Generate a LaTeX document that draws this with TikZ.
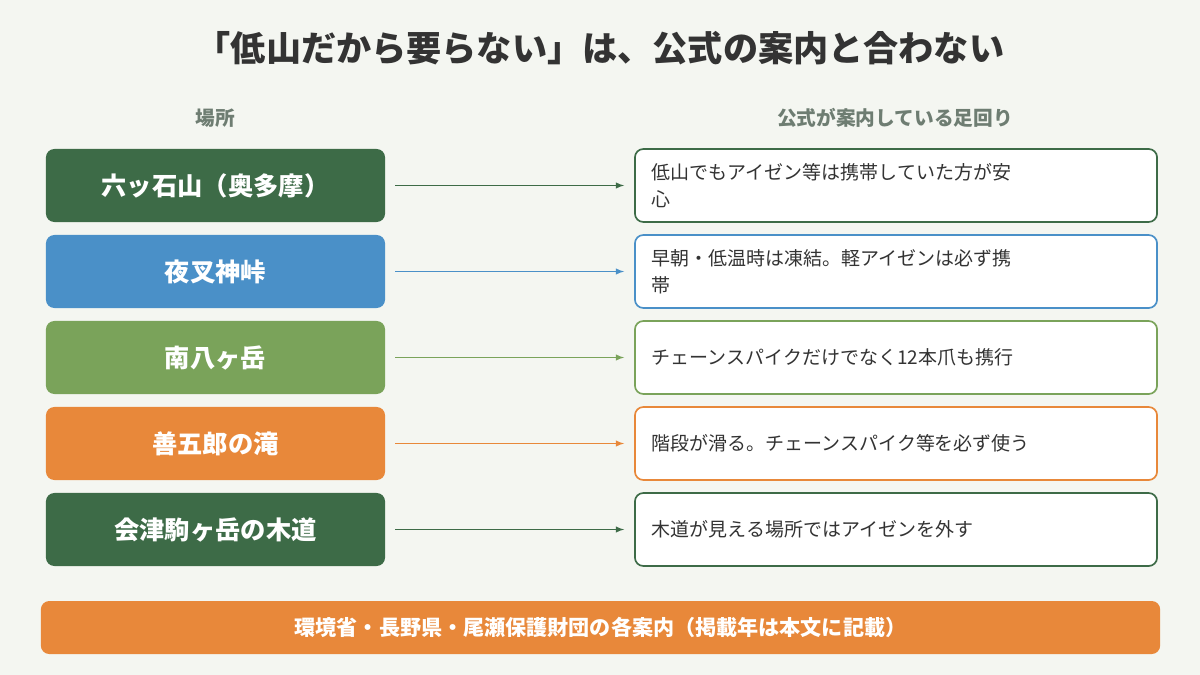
\documentclass[tikz,border=0pt]{standalone}
\usepackage{fontspec}
\setmainfont{Noto Sans CJK JP}
\usepackage{tikz}
\definecolor{bg}{HTML}{F4F6F1}
\definecolor{dgreen}{HTML}{3D6B47}
\definecolor{sblue}{HTML}{4A90C8}
\definecolor{lgreen}{HTML}{7AA35A}
\definecolor{sorange}{HTML}{E8883A}
\definecolor{head}{HTML}{6E7D72}
\definecolor{ink}{HTML}{333333}

\begin{document}
\begin{tikzpicture}[x=0.025cm,y=-0.025cm,
	place/.style={rounded corners=6pt,minimum width=8.475cm,minimum height=1.825cm,fill=#1,text=white,font=\bfseries\fontsize{18}{22}\selectfont},
	advice/.style={rounded corners=6pt,draw=#1,line width=1.2pt,fill=white,minimum width=13.05cm,minimum height=1.825cm,text width=12.2cm,align=left,text=ink,font=\fontsize{13.5}{19}\selectfont},
	link/.style={->,>=latex,line width=1pt,draw=#1}]
	\fill[bg] (0,0) rectangle (1200,675);
	\node [font=\bfseries\fontsize{25}{30}\selectfont,text=ink] (title) at (600,48) {「低山だから要らない」は、公式の案内と合わない};
	\node [font=\bfseries\fontsize{14}{17}\selectfont,text=head] (headPlace) at (215,118) {場所};
	\node [font=\bfseries\fontsize{14}{17}\selectfont,text=head] (headAdvice) at (895,118) {公式が案内している足回り};

	\node [place=dgreen] (rokko) at (215.5,185.5) {六ッ石山（奥多摩）};
	\node [place=sblue] (yasha) at (215.5,271.5) {夜叉神峠};
	\node [place=lgreen] (minami) at (215.5,357.5) {南八ヶ岳};
	\node [place=sorange] (zengoro) at (215.5,443.5) {善五郎の滝};
	\node [place=dgreen] (aizu) at (215.5,529.5) {会津駒ヶ岳の木道};

	\node [advice=dgreen] (rokkoTip) at (896,185.5) {低山でもアイゼン等は携帯していた方が安\\心};
	\node [advice=sblue] (yashaTip) at (896,271.5) {早朝・低温時は凍結。軽アイゼンは必ず携\\帯};
	\node [advice=lgreen] (minamiTip) at (896,357.5) {チェーンスパイクだけでなく12本爪も携行};
	\node [advice=sorange] (zengoroTip) at (896,443.5) {階段が滑る。チェーンスパイク等を必ず使う};
	\node [advice=dgreen] (aizuTip) at (896,529.5) {木道が見える場所ではアイゼンを外す};

	\draw [link=dgreen] ([xshift=0.25cm]rokko.east) -- ([xshift=-0.25cm]rokkoTip.west);
	\draw [link=sblue] ([xshift=0.25cm]yasha.east) -- ([xshift=-0.25cm]yashaTip.west);
	\draw [link=lgreen] ([xshift=0.25cm]minami.east) -- ([xshift=-0.25cm]minamiTip.west);
	\draw [link=sorange] ([xshift=0.25cm]zengoro.east) -- ([xshift=-0.25cm]zengoroTip.west);
	\draw [link=dgreen] ([xshift=0.25cm]aizu.east) -- ([xshift=-0.25cm]aizuTip.west);

	\node [rounded corners=6pt,fill=sorange,minimum width=27.975cm,minimum height=1.325cm,text=white,font=\bfseries\fontsize{15}{18}\selectfont] (sources) at (600.5,627.5) {環境省・長野県・尾瀬保護財団の各案内（掲載年は本文に記載）};
\end{tikzpicture}
\end{document}
